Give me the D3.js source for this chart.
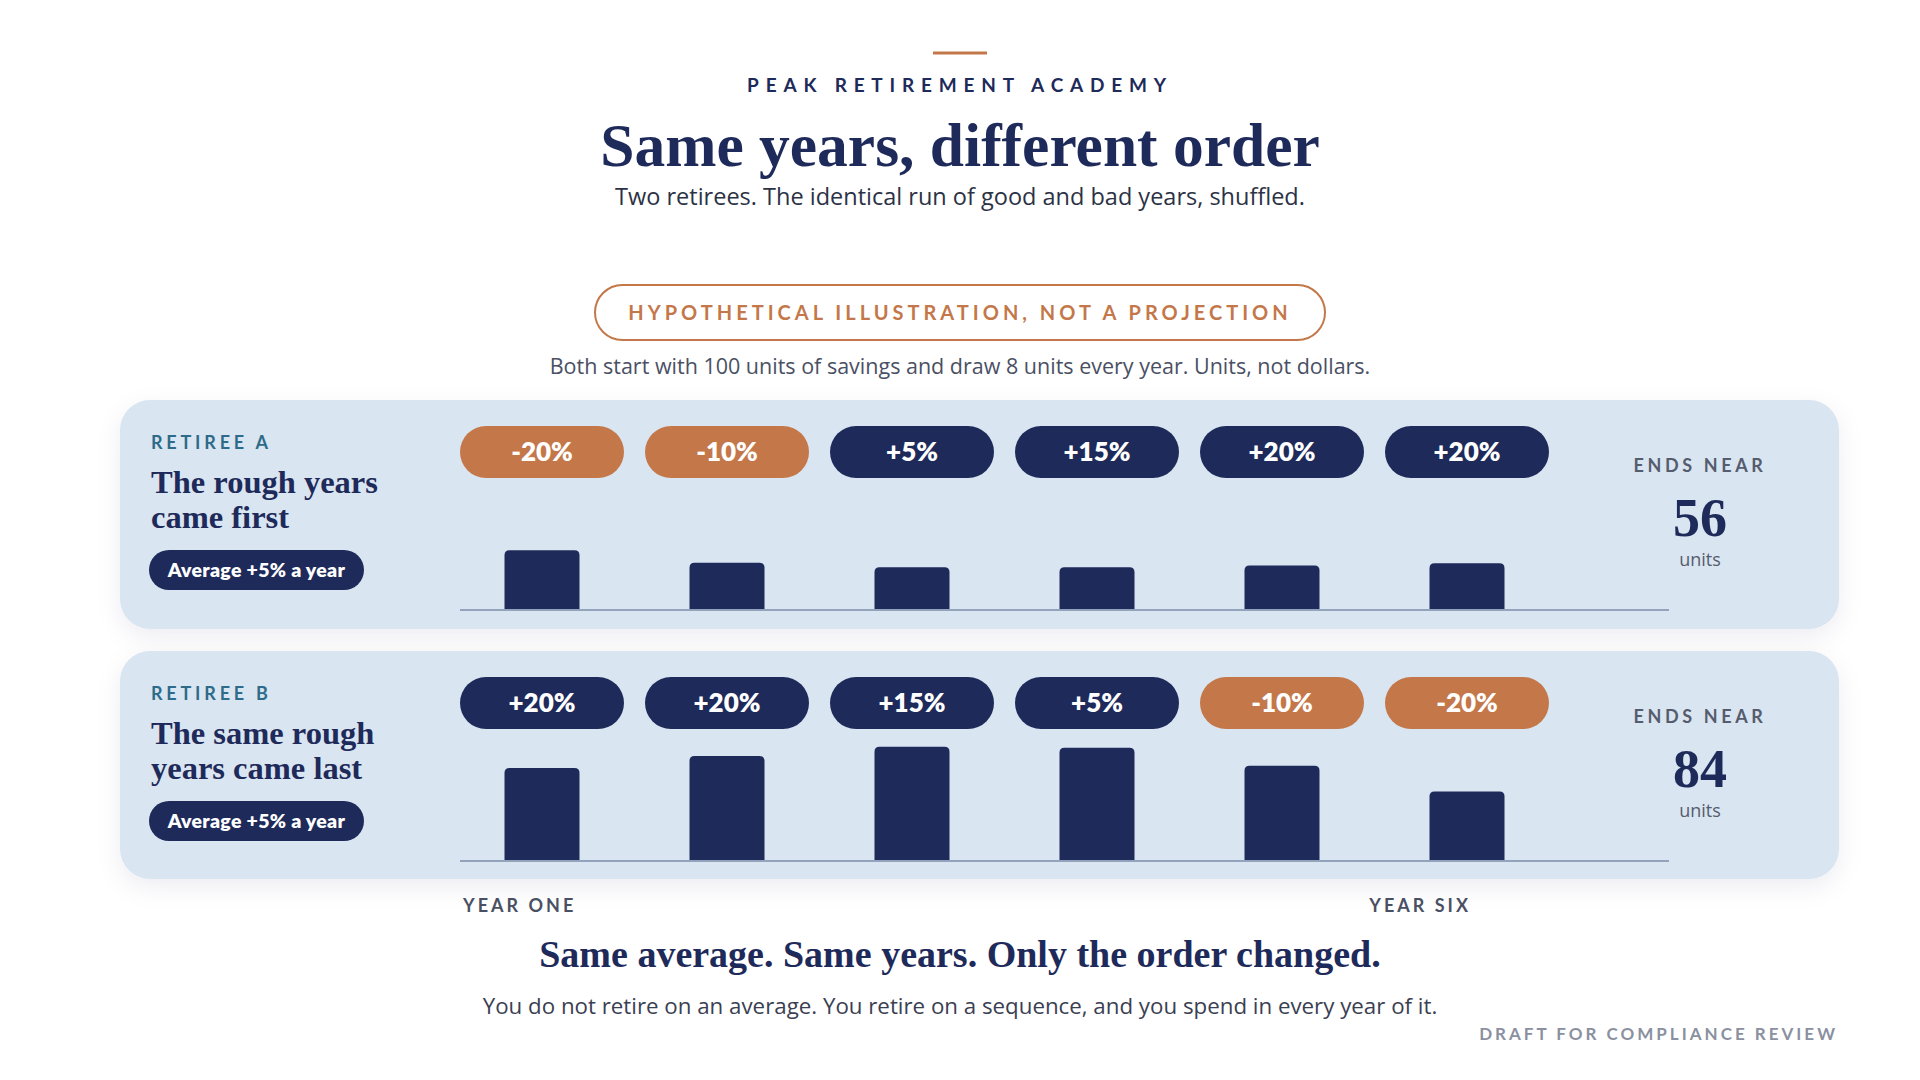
<!DOCTYPE html>
<html>
<head>
<meta charset="utf-8">
<script src="https://cdn.jsdelivr.net/npm/d3@7"></script>
<style>
  body { margin: 0; background: #ffffff; }
  svg { display: block; }
  .sans { font-family: Lato, "Open Sans", sans-serif; }
  .body { font-family: "Open Sans", Lato, sans-serif; }
  .serif { font-family: "Liberation Serif", "DejaVu Serif", serif; }
</style>
</head>
<body>
<script>
// ---- data ----
const years = ["Year 1", "Year 2", "Year 3", "Year 4", "Year 5", "Year 6"];
const returnsA = [-20, -10, 5, 15, 20, 20];
const returnsB = [20, 20, 15, 5, -10, -20];
// balance left at the end of each year (units)
const balanceA = [72, 56.8, 51.6, 51.4, 53.7, 56.4];
const balanceB = [112, 126.4, 137.4, 136.2, 114.6, 83.7];
const endsNear = [56, 84];
const retireeLabels = ["RETIREE A", "RETIREE B"];
const headings = [["The rough years", "came first"], ["The same rough", "years came last"]];
const badgeText = "Average +5% a year";

const navy = "#1e2a5a", orange = "#c4784a", panelFill = "#d9e5f0",
      teal = "#2e6b8a", grey = "#555c6e", axisGrey = "#93a3bb";

const W = 1920, H = 1080;
const svg = d3.select("body").append("svg")
    .attr("width", W)
    .attr("height", H);

const defs = svg.append("defs");
const f = defs.append("filter").attr("id", "shadow")
    .attr("x", "-5%").attr("y", "-20%").attr("width", "110%").attr("height", "150%");
f.append("feDropShadow").attr("dx", 0).attr("dy", 8).attr("stdDeviation", 12)
    .attr("flood-color", "#1e2a5a").attr("flood-opacity", 0.07);

// ---- header ----
svg.append("line")
    .attr("x1", 933).attr("x2", 987).attr("y1", 53).attr("y2", 53)
    .attr("stroke", orange).attr("stroke-width", 3);

svg.append("text").attr("class", "sans")
    .attr("x", 960).attr("y", 92).attr("text-anchor", "middle")
    .attr("font-size", 19).attr("font-weight", 700).attr("letter-spacing", 6.8)
    .attr("fill", navy).text("PEAK RETIREMENT ACADEMY");

svg.append("text").attr("class", "serif")
    .attr("x", 960).attr("y", 166).attr("text-anchor", "middle")
    .attr("font-size", 61.5).attr("font-weight", 700)
    .attr("fill", navy).text("Same years, different order");

svg.append("text").attr("class", "body")
    .attr("x", 960).attr("y", 205).attr("text-anchor", "middle")
    .attr("font-size", 23.5).attr("fill", "#2c3245")
    .text("Two retirees. The identical run of good and bad years, shuffled.");

svg.append("rect")
    .attr("x", 595).attr("y", 285).attr("width", 730).attr("height", 55).attr("rx", 27.5)
    .attr("fill", "#fff").attr("stroke", orange).attr("stroke-width", 2);
svg.append("text").attr("class", "sans")
    .attr("x", 960).attr("y", 320).attr("text-anchor", "middle")
    .attr("font-size", 20).attr("font-weight", 700).attr("letter-spacing", 4)
    .attr("fill", orange).text("HYPOTHETICAL ILLUSTRATION, NOT A PROJECTION");

svg.append("text").attr("class", "body")
    .attr("x", 960).attr("y", 374).attr("text-anchor", "middle")
    .attr("font-size", 21.5).attr("fill", "#4a5063")
    .text("Both start with 100 units of savings and draw 8 units every year. Units, not dollars.");

// ---- scales ----
const x = d3.scaleBand().domain(years).range([460, 1549]).paddingInner(21 / 185);
const y = d3.scaleLinear().domain([0, 140]).range([0, 116.3]);

const panels = [
  { top: 400, h: 229, returns: returnsA, balance: balanceA },
  { top: 651, h: 228, returns: returnsB, balance: balanceB }
];

function barPath(x0, w, base, h, r) {
  r = Math.min(r, h);
  return `M${x0},${base}V${base - h + r}Q${x0},${base - h} ${x0 + r},${base - h}` +
         `H${x0 + w - r}Q${x0 + w},${base - h} ${x0 + w},${base - h + r}V${base}Z`;
}

panels.forEach((p, k) => {
  const g = svg.append("g").attr("transform", `translate(0,${p.top})`);

  g.append("rect")
      .attr("x", 120).attr("y", 0).attr("width", 1719).attr("height", p.h).attr("rx", 30)
      .attr("fill", panelFill).attr("filter", "url(#shadow)");

  g.append("text").attr("class", "sans")
      .attr("x", 151).attr("y", 49)
      .attr("font-size", 18).attr("font-weight", 700).attr("letter-spacing", 3.8)
      .attr("fill", teal).text(retireeLabels[k]);

  g.selectAll("text.head").data(headings[k]).enter().append("text")
      .attr("class", "serif head")
      .attr("x", 151).attr("y", (d, i) => 93 + i * 35)
      .attr("font-size", 32.5).attr("font-weight", 700)
      .attr("fill", navy).text(d => d);

  g.append("rect")
      .attr("x", 149).attr("y", 150).attr("width", 215).attr("height", 40).attr("rx", 20)
      .attr("fill", navy);
  g.append("text").attr("class", "sans")
      .attr("x", 256.5).attr("y", 177).attr("text-anchor", "middle")
      .attr("font-size", 19.5).attr("font-weight", 800).attr("letter-spacing", 0.3)
      .attr("fill", "#fff").text(badgeText);

  // return pills
  const pills = g.selectAll("g.pill").data(p.returns).enter().append("g").attr("class", "pill");
  pills.append("rect")
      .attr("x", (d, i) => x(years[i])).attr("y", 26)
      .attr("width", x.bandwidth()).attr("height", 52).attr("rx", 26)
      .attr("fill", d => d < 0 ? orange : navy);
  pills.append("text").attr("class", "sans")
      .attr("x", (d, i) => x(years[i]) + x.bandwidth() / 2).attr("y", 61)
      .attr("text-anchor", "middle")
      .attr("font-size", 26).attr("font-weight", 800).attr("fill", "#fff")
      .text(d => (d > 0 ? "+" : "") + d + "%");

  // balance bars
  const base = 210, bw = 75;
  g.selectAll("path.bar").data(p.balance).enter().append("path")
      .attr("class", "bar")
      .attr("d", (d, i) => barPath(x(years[i]) + (x.bandwidth() - bw) / 2, bw, base, y(d), 5))
      .attr("fill", navy);

  g.append("line")
      .attr("x1", 460).attr("x2", 1669).attr("y1", base).attr("y2", base)
      .attr("stroke", axisGrey).attr("stroke-width", 2);

  // ends near
  g.append("text").attr("class", "sans")
      .attr("x", 1700).attr("y", 72).attr("text-anchor", "middle")
      .attr("font-size", 18).attr("font-weight", 700).attr("letter-spacing", 3.6)
      .attr("fill", grey).text("ENDS NEAR");
  g.append("text").attr("class", "serif")
      .attr("x", 1700).attr("y", 136).attr("text-anchor", "middle")
      .attr("font-size", 54).attr("font-weight", 700)
      .attr("fill", navy).text(endsNear[k]);
  g.append("text").attr("class", "body")
      .attr("x", 1700).attr("y", 166).attr("text-anchor", "middle")
      .attr("font-size", 18).attr("fill", grey).text("units");
});

// ---- footer ----
svg.append("text").attr("class", "sans")
    .attr("x", 463).attr("y", 912)
    .attr("font-size", 18).attr("font-weight", 700).attr("letter-spacing", 3)
    .attr("fill", "#4a5063").text("YEAR ONE");
svg.append("text").attr("class", "sans")
    .attr("x", 1471).attr("y", 912).attr("text-anchor", "end")
    .attr("font-size", 18).attr("font-weight", 700).attr("letter-spacing", 3)
    .attr("fill", "#4a5063").text("YEAR SIX");

svg.append("text").attr("class", "serif")
    .attr("x", 960).attr("y", 967).attr("text-anchor", "middle")
    .attr("font-size", 38).attr("font-weight", 700)
    .attr("fill", navy).text("Same average. Same years. Only the order changed.");

svg.append("text").attr("class", "body")
    .attr("x", 960).attr("y", 1014).attr("text-anchor", "middle")
    .attr("font-size", 22.3).attr("fill", "#3a4052")
    .text("You do not retire on an average. You retire on a sequence, and you spend in every year of it.");

svg.append("text").attr("class", "sans")
    .attr("x", 1838).attr("y", 1040).attr("text-anchor", "end")
    .attr("font-size", 17).attr("font-weight", 700).attr("letter-spacing", 3)
    .attr("fill", "#8a90a0").text("DRAFT FOR COMPLIANCE REVIEW");
</script>
</body>
</html>
